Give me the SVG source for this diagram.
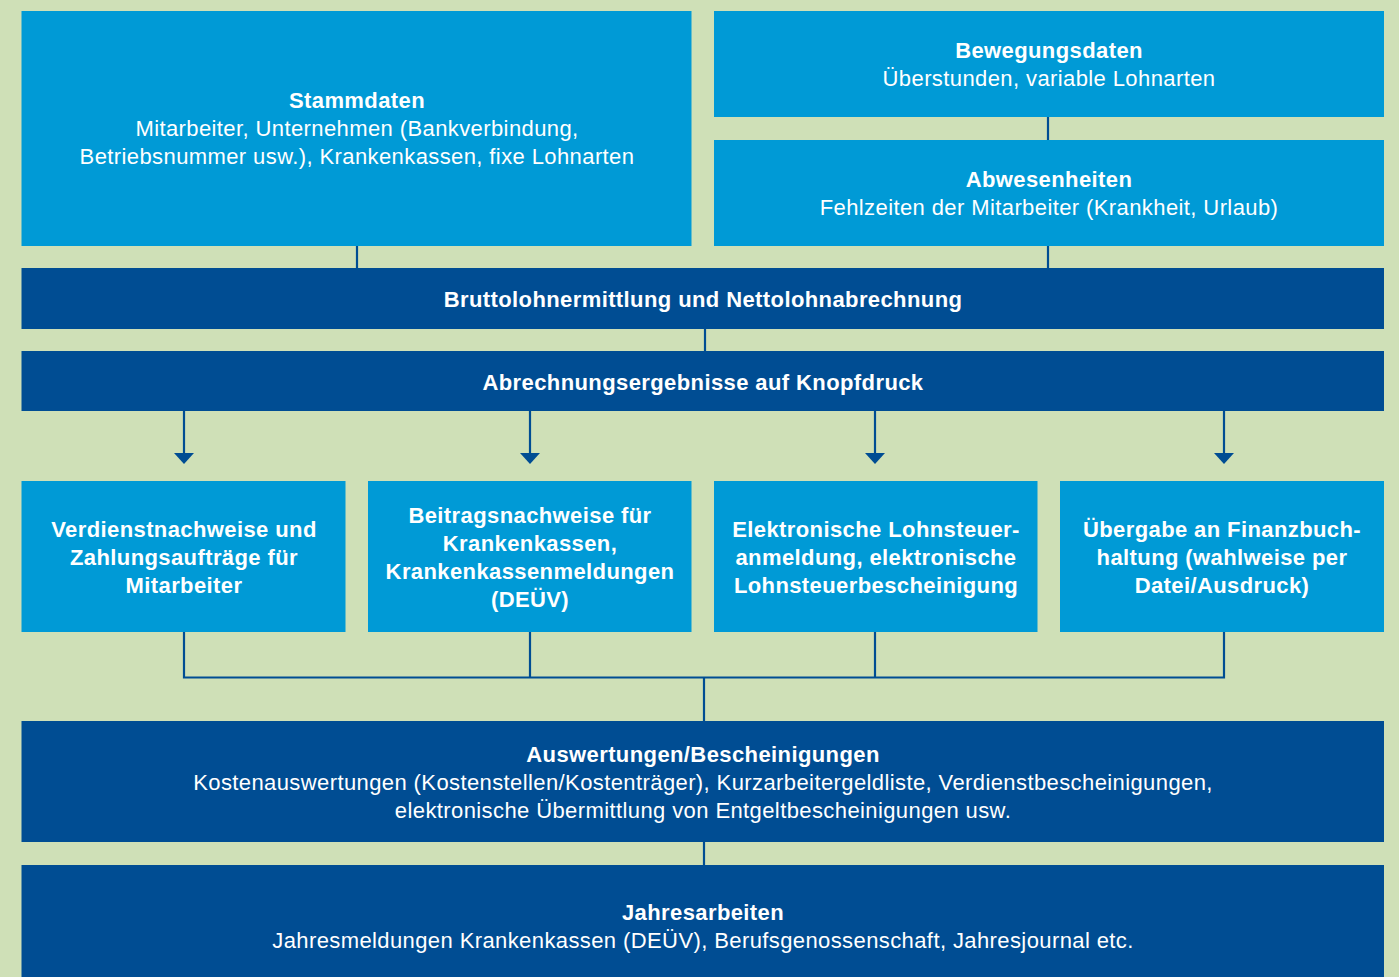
<svg xmlns="http://www.w3.org/2000/svg" width="1399" height="977" viewBox="0 0 1399 977">
<defs>
<style>
.bg{fill:#cfe0b7}
.lb{fill:#009ad6}
.db{fill:#004d93}
text{font-family:"Liberation Sans",Arial,Helvetica,sans-serif;fill:#ffffff;text-anchor:middle;font-size:22px;letter-spacing:0.4px}
.b{font-weight:bold}
.c{stroke:#004d93;stroke-width:2.2;fill:none}
</style>
</defs>
<rect class="bg" x="0" y="0" width="1399" height="977"/>
<g id="connectors">
<line class="c" x1="357" y1="246" x2="357" y2="268"/>
<line class="c" x1="1048" y1="117" x2="1048" y2="140"/>
<line class="c" x1="1048" y1="246" x2="1048" y2="268"/>
<line class="c" x1="705" y1="329" x2="705" y2="351"/>
<path class="c" d="M184,411 V453"/>
<path class="c" d="M530,411 V453"/>
<path class="c" d="M875,411 V453"/>
<path class="c" d="M1224,411 V453"/>
<path d="M174,453 H194 L184,464 Z" fill="#004d93"/>
<path d="M520,453 H540 L530,464 Z" fill="#004d93"/>
<path d="M865,453 H885 L875,464 Z" fill="#004d93"/>
<path d="M1214,453 H1234 L1224,464 Z" fill="#004d93"/>
<path class="c" d="M184,632 V677.5 H1224 V632 M530,632 V677.5 M875,632 V677.5 M704,677.5 V721"/>
<line class="c" x1="704" y1="842" x2="704" y2="865"/>
</g>
<g id="stammdaten">
<rect class="lb" x="21.5" y="11" width="670" height="235"/>
<text class="b" x="357" y="108">Stammdaten</text>
<text x="357" y="136">Mitarbeiter, Unternehmen (Bankverbindung,</text>
<text x="357" y="164">Betriebsnummer usw.), Krankenkassen, fixe Lohnarten</text>
</g>
<g id="bewegungsdaten">
<rect class="lb" x="714" y="11" width="670" height="106"/>
<text class="b" x="1049" y="58">Bewegungsdaten</text>
<text x="1049" y="86">Überstunden, variable Lohnarten</text>
</g>
<g id="abwesenheiten">
<rect class="lb" x="714" y="140" width="670" height="106"/>
<text class="b" x="1049" y="187">Abwesenheiten</text>
<text x="1049" y="215">Fehlzeiten der Mitarbeiter (Krankheit, Urlaub)</text>
</g>
<g id="brutto">
<rect class="db" x="21.5" y="268" width="1362.5" height="61"/>
<text class="b" x="703" y="307">Bruttolohnermittlung und Nettolohnabrechnung</text>
</g>
<g id="abrechnung">
<rect class="db" x="21.5" y="351" width="1362.5" height="60"/>
<text class="b" x="703" y="390">Abrechnungsergebnisse auf Knopfdruck</text>
</g>
<g id="verdienst">
<rect class="lb" x="21.5" y="481" width="324" height="151"/>
<text class="b" x="184" y="537">Verdienstnachweise und</text>
<text class="b" x="184" y="565">Zahlungsaufträge für</text>
<text class="b" x="184" y="593">Mitarbeiter</text>
</g>
<g id="beitrag">
<rect class="lb" x="368" y="481" width="323.5" height="151"/>
<text class="b" x="530" y="523">Beitragsnachweise für</text>
<text class="b" x="530" y="551">Krankenkassen,</text>
<text class="b" x="530" y="579">Krankenkassenmeldungen</text>
<text class="b" x="530" y="607">(DEÜV)</text>
</g>
<g id="lohnsteuer">
<rect class="lb" x="714" y="481" width="323.5" height="151"/>
<text class="b" x="876" y="537">Elektronische Lohnsteuer-</text>
<text class="b" x="876" y="565">anmeldung, elektronische</text>
<text class="b" x="876" y="593">Lohnsteuerbescheinigung</text>
</g>
<g id="finanzbuchhaltung">
<rect class="lb" x="1060" y="481" width="324" height="151"/>
<text class="b" x="1222" y="537">Übergabe an Finanzbuch-</text>
<text class="b" x="1222" y="565">haltung (wahlweise per</text>
<text class="b" x="1222" y="593">Datei/Ausdruck)</text>
</g>
<g id="auswertungen">
<rect class="db" x="21.5" y="721" width="1362.5" height="121"/>
<text class="b" x="703" y="762">Auswertungen/Bescheinigungen</text>
<text x="703" y="790">Kostenauswertungen (Kostenstellen/Kostenträger), Kurzarbeitergeldliste, Verdienstbescheinigungen,</text>
<text x="703" y="818">elektronische Übermittlung von Entgeltbescheinigungen usw.</text>
</g>
<g id="jahresarbeiten">
<rect class="db" x="21.5" y="865" width="1362.5" height="112"/>
<text class="b" x="703" y="920">Jahresarbeiten</text>
<text x="703" y="948">Jahresmeldungen Krankenkassen (DEÜV), Berufsgenossenschaft, Jahresjournal etc.</text>
</g>
</svg>
